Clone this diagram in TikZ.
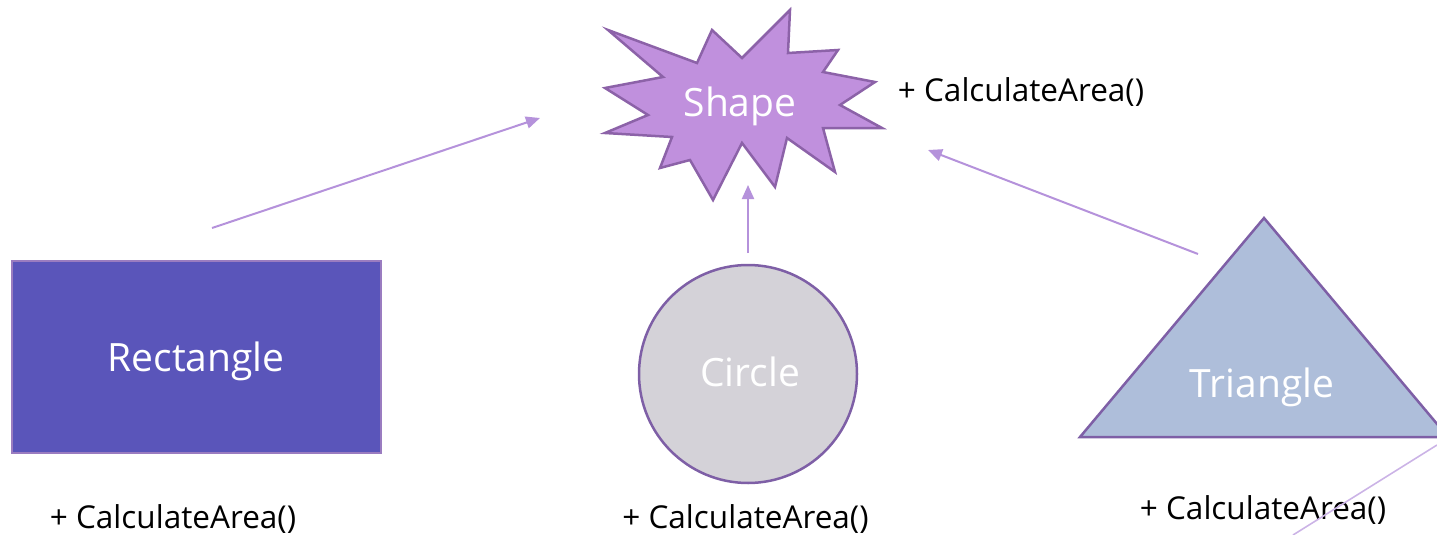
\documentclass[tikz,border=0pt]{standalone}
\usepackage{fontspec}
\setmainfont{Open Sans}
\usetikzlibrary{arrows.meta}
\definecolor{rectfill}{HTML}{5A55BA}
\definecolor{rectline}{HTML}{9A7CC0}
\definecolor{circfill}{HTML}{D4D2D8}
\definecolor{shapeline}{HTML}{7E5FA6}
\definecolor{trifill}{HTML}{AEBEDA}
\definecolor{starfill}{HTML}{C090DD}
\definecolor{starline}{HTML}{8C62A8}
\definecolor{arrowcol}{HTML}{B592DB}
\tikzset{
  lbl/.style={text=white, font=\fontsize{39}{44}\selectfont, inner sep=0pt},
  method/.style={text=black, font=\fontsize{31.5}{36}\selectfont, inner sep=0pt},
  inherit/.style={draw=arrowcol, line width=2pt, -{Triangle[length=14pt,width=12pt]}},
  stray/.style={draw=arrowcol!70, line width=1.6pt},
}
\begin{document}
\begin{tikzpicture}[x=1pt,y=-1pt]
\useasboundingbox (0,0) rectangle (1437,535);
% Shape star
\filldraw[fill=starfill, draw=starline, line width=2.5pt, line join=miter]
 (608,30) -- (697,63) -- (712,30) -- (742,58) -- (790,10) -- (788,53) -- (838,50)
 -- (823,72) -- (875,82) -- (840,105) -- (882,128) -- (823,128) -- (835,172)
 -- (787,138) -- (775,187) -- (742,143) -- (713,200) -- (690,160) -- (660,168)
 -- (672,137) -- (605,133) -- (648,115) -- (605,88) -- (663,77) -- cycle;
\node[lbl] (shape) at (740,106) {Shape};
\node[method] (shapem) at (1021,92) {+ CalculateArea()};
% Rectangle
\node[draw=rectline, fill=rectfill, line width=1.5pt, minimum width=369pt, minimum height=192pt, inner sep=0pt] (rect) at (196.5,357) {};
\node[lbl] (rectl) at (196,361) {Rectangle};
\node[method] (rectm) at (173,519) {+ CalculateArea()};
% Circle
\node[draw=shapeline, fill=circfill, line width=2.5pt, circle, minimum size=218pt, inner sep=0pt] (circ) at (748,374) {};
\node[lbl] (circl) at (750,372) {Circle};
\node[method] (circm) at (745.5,519) {+ CalculateArea()};
% Triangle
\filldraw[fill=trifill, draw=shapeline, line width=2.5pt, line join=miter]
 (1264,218) -- (1080,437) -- (1448,437) -- cycle;
\node[lbl] (tril) at (1262,387) {Triangle};
\node[method] (trim) at (1263,510) {+ CalculateArea()};
% connector end points
\coordinate (rs) at (212,228);
\coordinate (re) at (540,118);
\coordinate (cs) at (748,253);
\coordinate (ce) at (748,185);
\coordinate (ts) at (1198,254);
\coordinate (te) at (928,150);
\coordinate (xs) at (1437,445);
\coordinate (xe) at (1293,535);
\draw[inherit] (rs) -- (re);
\draw[inherit] (cs) -- (ce);
\draw[inherit] (ts) -- (te);
\draw[stray] (xs) -- (xe);
\end{tikzpicture}
\end{document}
